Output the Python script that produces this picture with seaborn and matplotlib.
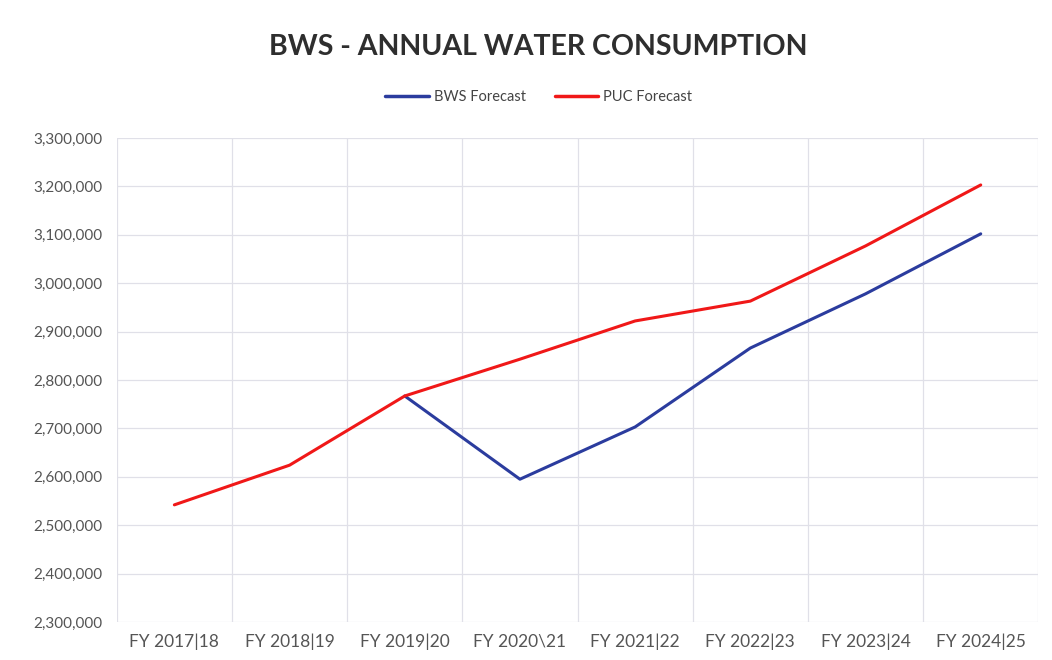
import numpy as np
import pandas as pd
import matplotlib
matplotlib.use("Agg")
import matplotlib.pyplot as plt
import seaborn as sns
from matplotlib.ticker import FuncFormatter, FixedLocator

# ========================
# DATA
# ========================
years = ["FY 2017|18", "FY 2018|19", "FY 2019|20", "FY 2020\\21",
         "FY 2021|22", "FY 2022|23", "FY 2023|24", "FY 2024|25"]
bws_forecast = [np.nan, np.nan, 2767000, 2595000, 2703000, 2866000, 2978000, 3102000]
puc_forecast = [2542000, 2624000, 2767000, 2843000, 2922000, 2963000, 3077000, 3203000]
series_names = ["BWS Forecast", "PUC Forecast"]
series_colors = ["#2B3C9E", "#F01818"]

df = pd.DataFrame({
    "idx": list(range(len(years))) * 2,
    "Year": years * 2,
    "Value": bws_forecast + puc_forecast,
    "Series": [series_names[0]] * len(years) + [series_names[1]] * len(years),
})

# ========================
# PLOT
# ========================
sns.set_style("white")
plt.rcParams["font.family"] = ["Lato", "DejaVu Sans"]

fig = plt.figure(figsize=(10.52, 6.6), dpi=100)
ax = fig.add_axes([0.111, 0.0576, 0.876, 0.7333])

sns.lineplot(data=df, x="idx", y="Value", hue="Series", palette=series_colors,
             hue_order=series_names, linewidth=2.2, sort=False, ax=ax, legend=False)

ax.set_xlim(-0.5, len(years) - 0.5)
ax.set_ylim(2300000, 3300000)
ax.set_yticks(np.arange(2300000, 3300001, 100000))
ax.yaxis.set_major_formatter(FuncFormatter(lambda v, p: f"{int(v):,}"))
ax.set_xticks(range(len(years)))
ax.set_xticklabels(years)
ax.xaxis.set_minor_locator(FixedLocator(np.arange(-0.5, len(years), 1.0)))

ax.grid(axis="y", which="major", color="#E0E0E8", linewidth=0.9)
ax.grid(axis="x", which="minor", color="#E0E0E8", linewidth=0.9)
ax.grid(axis="x", which="major", visible=False)
for s in ax.spines.values():
    s.set_visible(False)
ax.tick_params(axis="both", which="both", length=0)
ax.tick_params(axis="y", labelsize=11, labelcolor="#555555", pad=10)
ax.tick_params(axis="x", labelsize=12.5, labelcolor="#555555", pad=8)
ax.set_xlabel("")
ax.set_ylabel("")

fig.text(0.512, 0.929, "BWS - ANNUAL WATER CONSUMPTION", ha="center", va="center",
         fontsize=20.5, fontweight="bold", color="#2E2E2E")

handles = [plt.Line2D([0], [0], color=c, linewidth=2.5) for c in series_colors]
fig.legend(handles, series_names, loc="center", bbox_to_anchor=(0.512, 0.853), ncol=2,
           frameon=False, fontsize=10.5, handlelength=3.0, columnspacing=2.0,
           handletextpad=0.3, labelcolor="#444444")

fig.savefig("out.png", dpi=100)
